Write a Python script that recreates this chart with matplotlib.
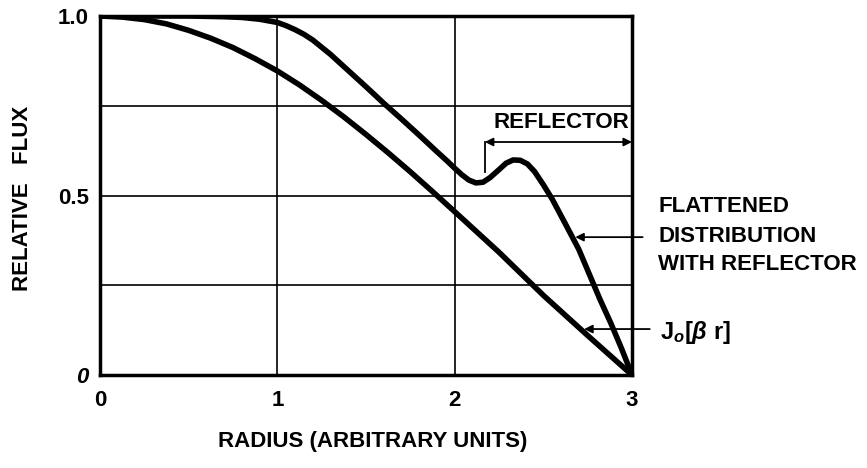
import numpy as np
import matplotlib
matplotlib.use('Agg')
import matplotlib.pyplot as plt

plt.rcParams['font.family'] = ['Liberation Sans', 'DejaVu Sans']
plt.rcParams['font.weight'] = 'bold'
plt.rcParams['mathtext.fontset'] = 'custom'
plt.rcParams['mathtext.rm'] = 'Liberation Sans:bold'
plt.rcParams['mathtext.it'] = 'Liberation Sans:italic:bold'
plt.rcParams['mathtext.bf'] = 'Liberation Sans:bold'

# J0 curve
r_j0 = [0.0, 0.125, 0.25, 0.375, 0.5, 0.625, 0.75, 0.875, 1.0, 1.125, 1.25, 1.375,
        1.5, 1.625, 1.75, 1.875, 2.0, 2.25, 2.5, 2.75, 3.0]
flux_j0 = [1.0, 0.997, 0.99, 0.978, 0.96, 0.938, 0.912, 0.881, 0.847, 0.808, 0.765,
           0.719, 0.67, 0.619, 0.566, 0.511, 0.455, 0.342, 0.222, 0.11, 0.0]

# flattened distribution with reflector
r_flat = [0.0, 0.25, 0.5, 0.7, 0.8, 0.9, 1.0, 1.05, 1.1, 1.15, 1.2, 1.3, 1.4, 1.5,
          1.6, 1.7, 1.8, 1.9, 1.96, 2.0, 2.04, 2.08, 2.12, 2.16, 2.2, 2.25, 2.29,
          2.33, 2.37, 2.41, 2.45, 2.5, 2.55, 2.62, 2.7, 2.76, 2.82, 2.88, 2.94, 3.0]
flux_flat = [1.0, 1.0, 1.0, 0.998, 0.996, 0.991, 0.982, 0.973, 0.962, 0.949, 0.933,
             0.893, 0.848, 0.803, 0.757, 0.713, 0.668, 0.622, 0.595, 0.576, 0.558,
             0.543, 0.535, 0.537, 0.55, 0.572, 0.59, 0.599, 0.598, 0.588, 0.567,
             0.53, 0.49, 0.425, 0.35, 0.28, 0.21, 0.145, 0.075, 0.0]

xticks = [0, 1, 2, 3]
xtick_labels = ['0', '1', '2', '3']
yticks = [0, 0.5, 1.0]
ytick_labels = ['0', '0.5', '1.0']
grid_x = [1, 2]
grid_y = [0.25, 0.5, 0.75]

FS = 16
W, H = 867, 468
fig = plt.figure(figsize=(W / 100, H / 100), dpi=100)
ax = fig.add_axes([100 / W, (H - 375) / H, 532 / W, 359 / H])

for gx in grid_x:
    ax.axvline(gx, color='black', lw=1.2, zorder=1)
for gy in grid_y:
    ax.axhline(gy, color='black', lw=1.2, zorder=1)

ax.plot(r_j0, flux_j0, color='black', lw=4, solid_joinstyle='round',
        solid_capstyle='round', zorder=3)
ax.plot(r_flat, flux_flat, color='black', lw=4, solid_joinstyle='round',
        solid_capstyle='round', zorder=3)

ax.set_xlim(0, 3)
ax.set_ylim(0, 1.0)
for s in ax.spines.values():
    s.set_linewidth(2.5)

ax.set_xticks(xticks)
ax.set_xticklabels(xtick_labels, fontsize=FS, fontweight='bold')
ax.set_yticks(yticks)
ax.set_yticklabels(ytick_labels, fontsize=FS, fontweight='bold')
ax.get_yticklabels()[0].set_style('italic')
ax.tick_params(axis='x', length=0, pad=11)
ax.tick_params(axis='y', length=0, pad=8)

# reflector bracket
ax.annotate('', xy=(2.17, 0.649), xytext=(3.0, 0.649),
            arrowprops=dict(arrowstyle='<|-|>', color='black', lw=1.3,
                            mutation_scale=12, shrinkA=0, shrinkB=0),
            annotation_clip=False)
ax.plot([2.17, 2.17], [0.566, 0.649], color='black', lw=1.3)
ax.text(2.6, 0.702, 'REFLECTOR', ha='center', va='center', fontsize=FS,
        fontweight='bold')

# flattened label and arrow
ax.annotate('', xy=(2.68, 0.384), xytext=(3.06, 0.384),
            arrowprops=dict(arrowstyle='-|>', color='black', lw=1.3,
                            mutation_scale=12, shrinkA=0, shrinkB=0),
            annotation_clip=False)
fig.text(658 / W, 1 - 236 / H, 'FLATTENED\nDISTRIBUTION\nWITH REFLECTOR',
         ha='left', va='center', fontsize=FS, fontweight='bold', linespacing=1.5)

# J0 label and arrow
ax.annotate('', xy=(2.73, 0.128), xytext=(3.1, 0.128),
            arrowprops=dict(arrowstyle='-|>', color='black', lw=1.3,
                            mutation_scale=12, shrinkA=0, shrinkB=0),
            annotation_clip=False)
fig.text(660 / W, 1 - 333 / H, r'$\mathrm{J}_{\mathit{o}}\left[\beta\ \mathrm{r}\right]$',
         ha='left', va='center', fontsize=FS + 1)

fig.text(23 / W, 1 - 198 / H, 'RELATIVE   FLUX', rotation=90, ha='center',
         va='center', fontsize=FS, fontweight='bold')
fig.text(373 / W, 1 - 442 / H, 'RADIUS (ARBITRARY UNITS)', ha='center',
         va='center', fontsize=FS, fontweight='bold')

fig.savefig('out.png', dpi=100)
